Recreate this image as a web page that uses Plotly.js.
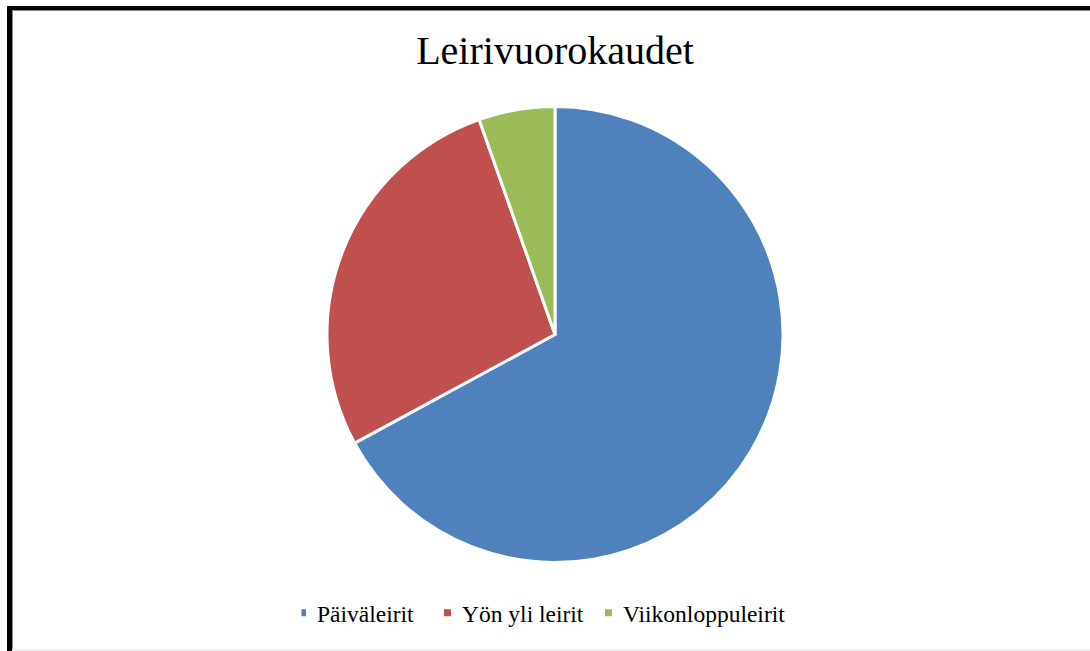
<!DOCTYPE html>
<html>
<head>
<meta charset="utf-8">
<script src="https://cdn.plot.ly/plotly-3.0.1.min.js"></script>
<style>
  html, body { margin: 0; padding: 0; background: #fff; overflow: hidden; }
  #chart { position: absolute; left: 0; top: 0; width: 1090px; height: 651px; }
  #frame { position: absolute; left: 7px; top: 6px; width: 1200px; height: 800px;
           border-left: 5px solid #000; border-top: 4px solid #000; pointer-events: none; z-index: 5; }
  #frame2 { position: absolute; left: 12px; top: 10px; width: 1200px; height: 800px;
           border-left: 1px solid #888; border-top: 1px solid #888; pointer-events: none; z-index: 5; }
  #bottomline { position: absolute; left: 12px; top: 649px; width: 1100px; height: 2px; background: #eee; z-index: 5; }
</style>
</head>
<body>
<div id="chart"></div>
<div id="frame"></div>
<div id="frame2"></div>
<div id="bottomline"></div>
<script>
const chartTitle = "Leirivuorokaudet";
const categories = ["Päiväleirit", "Yön yli leirit", "Viikonloppuleirit"];
const values = [67.1, 27.5, 5.4];
const colors = ["#4F81BD", "#C0504D", "#9BBB59"];

const W = 1090, H = 651;
const cx = 555, cy = 334.5, r = 228;
// legend symbol centres (page x) as in the reference
const legendSymbolX = [302.5, 447.5, 608.5];

const data = [{
  type: "pie",
  labels: categories,
  values: values,
  marker: { colors: colors, line: { color: "#ffffff", width: 3 } },
  sort: false,
  direction: "clockwise",
  rotation: 0,
  textinfo: "none",
  hoverinfo: "label+value",
  domain: { x: [(cx - r) / W, (cx + r) / W], y: [(H - cy - r) / H, (H - cy + r) / H] }
}];

const layout = {
  width: W, height: H,
  margin: { l: 0, r: 0, t: 0, b: 0 },
  paper_bgcolor: "#ffffff",
  plot_bgcolor: "#ffffff",
  title: {
    text: chartTitle,
    font: { family: "Liberation Serif, DejaVu Serif, serif", size: 40, color: "#000" },
    x: 555 / W, xanchor: "center",
    y: 1 - 50 / H, yanchor: "middle", yref: "container"
  },
  showlegend: true,
  legend: {
    orientation: "h",
    x: 560 / W, xanchor: "center",
    y: 1 - 613 / H, yanchor: "middle",
    font: { family: "Liberation Serif, DejaVu Serif, serif", size: 23.5, color: "#000" },
    itemwidth: 30,
    traceorder: "normal"
  }
};

Plotly.newPlot("chart", data, layout, { displayModeBar: false, staticPlot: true }).then(function (gd) {
  const traces = gd.querySelectorAll(".legend .traces");
  traces.forEach(function (g, i) {
    const sym = g.querySelector(".legendpoints path");
    const txt = g.querySelector("text.legendtext");
    if (sym) {
      sym.setAttribute("d", "M3.5,3.5H-3.5V-3.5H3.5Z");
      sym.style.strokeWidth = "0px";
    }
    if (sym && legendSymbolX[i] !== undefined) {
      const rc = sym.getBoundingClientRect();
      const cur = rc.left + rc.width / 2;
      const delta = legendSymbolX[i] - cur;
      const tr = g.getAttribute("transform") || "translate(0,0)";
      const m = tr.match(/translate\(\s*([-\d.e]+)[ ,]+([-\d.e]+)\s*\)/);
      const tx = m ? parseFloat(m[1]) : 0, ty = m ? parseFloat(m[2]) : 0;
      g.setAttribute("transform", "translate(" + (tx + delta) + "," + ty + ")");
      if (txt) {
        const r2 = sym.getBoundingClientRect();
        const c2 = r2.left + r2.width / 2;
        const tr2 = txt.getBoundingClientRect();
        const shift = (c2 + 14.5) - tr2.left;
        txt.setAttribute("x", parseFloat(txt.getAttribute("x") || 0) + shift);
      }
    }
  });
});
</script>
</body>
</html>
